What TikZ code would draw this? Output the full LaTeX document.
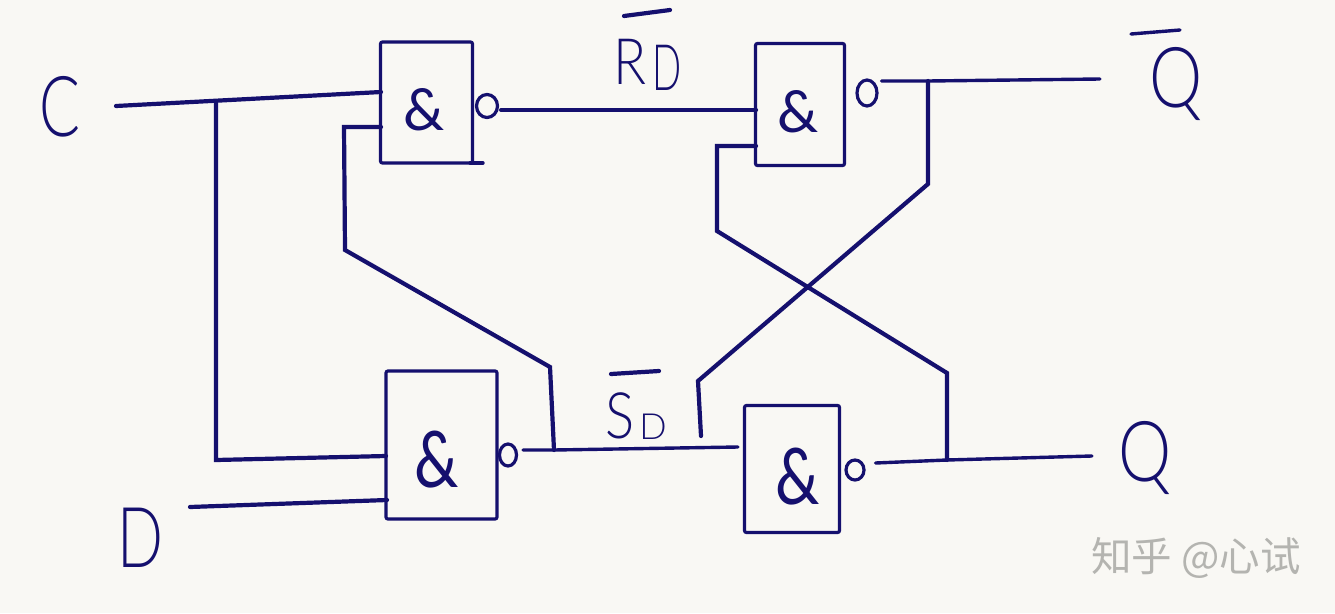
\documentclass[tikz,border=0pt]{standalone}
\usepackage{fontspec}
\setmainfont{Lato Light}
\newfontfamily\cjkwm{Noto Sans CJK SC}
\newfontfamily\ampfont{Lato}
\usetikzlibrary{shapes.geometric}
\definecolor{paper}{HTML}{F9F8F4}
\definecolor{ink}{HTML}{15106E}
\definecolor{mark}{HTML}{B4B4B0}
\tikzset{
  gatebox/.style={draw=ink,line width=3.2pt,rectangle,rounded corners=2pt,inner sep=0pt},
  amp/.style={text=ink,inner sep=0pt,font=\ampfont\fontsize{58}{58}\selectfont},
  bigamp/.style={text=ink,inner sep=0pt,font=\ampfont\fontsize{78}{78}\selectfont,xscale=.8},
  bubble/.style={draw=ink,line width=3.2pt,ellipse,inner sep=0pt},
  wire/.style={draw=ink,line width=4.2pt,line join=miter,line cap=round},
  thinwire/.style={draw=ink,line width=3.4pt,line cap=round},
  handlabel/.style={text=ink,inner sep=0pt,font=\fontsize{84}{84}\selectfont},
  smalllabel/.style={text=ink,inner sep=0pt,font=\fontsize{64}{64}\selectfont},
}
\begin{document}
\begin{tikzpicture}[x=1pt,y=-1pt]
\fill[paper] (0,0) rectangle (1335,613);
\useasboundingbox (0,0) rectangle (1335,613);
% gates
\node[gatebox,minimum width=92pt,minimum height=121pt] (g1) at (426.5,102.5) {};
\node[gatebox,minimum width=89pt,minimum height=122pt] (g2) at (800,104.5) {};
\node[gatebox,minimum width=111pt,minimum height=148pt] (g3) at (441.5,445) {};
\node[gatebox,minimum width=95pt,minimum height=127pt] (g4) at (792,469) {};
\node[amp] (a1) at (424,110) {\&};
\node[amp] (a2) at (798,112) {\&};
\node[bigamp] (a3) at (437,460) {\&};
\node[bigamp] (a4) at (798,477) {\&};
% bubbles
\node[bubble,minimum width=21pt,minimum height=23pt] (b1) at (487,106) {};
\node[bubble,minimum width=20pt,minimum height=26pt] (b2) at (867,93) {};
\node[bubble,minimum width=17pt,minimum height=22pt] (b3) at (508,455) {};
\node[bubble,minimum width=18pt,minimum height=20pt] (b4) at (855,470) {};
% labels
\node[handlabel,xscale=.72] (lc) at (60,107) {C};
\node[handlabel,xscale=.72] (ld) at (140,538) {D};
\node[handlabel,xscale=.8] (lq) at (1145,458) {Q};
\node[handlabel,xscale=.8] (lnq) at (1176,84) {Q};
\node[smalllabel,xscale=.85] (lr) at (630,62) {R};
\node[smalllabel,xscale=.6] (lrd) at (667,68) {D};
\node[smalllabel,xscale=.85] (ls) at (620,416) {S};
\node[text=ink,inner sep=0pt,font=\fontsize{36}{36}\selectfont] (lsd) at (653,427) {D};
\node[text=mark,inner sep=0pt,font=\cjkwm\fontsize{40.5}{40.5}\selectfont] (wm) at (1196,558) {知乎 @心试};
% ports and bends
\coordinate (cs) at (116,106);
\coordinate (cj) at (216,101);
\coordinate (g1a) at (381,92);
\coordinate (g1b) at (381,127);
\coordinate (c1) at (344,127);
\coordinate (c2) at (345,250);
\coordinate (c3) at (550,367);
\coordinate (sj) at (554,450);
\coordinate (g3a) at (386,456);
\coordinate (g3b) at (387,500);
\coordinate (c4) at (216,460);
\coordinate (ds) at (190,507);
\coordinate (g2a) at (756,110);
\coordinate (g2b) at (756,146);
\coordinate (c5) at (717,146);
\coordinate (c6) at (717,231);
\coordinate (c7) at (947,373);
\coordinate (qj) at (947,460);
\coordinate (o2) at (1100,79);
\coordinate (nj) at (928,81);
\coordinate (c8) at (928,184);
\coordinate (c9) at (698,381);
\coordinate (c10) at (701,436);
\coordinate (g4a) at (738,447);
\coordinate (o4) at (1092,456);
\coordinate (brs) at (624,16);
\coordinate (bre) at (670,10);
\coordinate (bss) at (611,374);
\coordinate (bse) at (659,371);
\coordinate (bqs) at (1131,34);
\coordinate (bqe) at (1180,30);
\coordinate (g1w) at (470,163);
\coordinate (g1x) at (483,163);
% connectors
\draw[wire] (cs) -- (g1a);
\draw[wire] (cj) -- (c4) -- (g3a);
\draw[wire] (ds) -- (g3b);
\draw[wire] (b1.east) ++(2,4) -- (g2a);
\draw[wire] (g1b) -- (c1) -- (c2) -- (c3) -- (sj);
\draw[thinwire] (b3.east) ++(5,-5) -- (sj) -- (g4a);
\draw[wire] (g2b) -- (c5) -- (c6) -- (c7) -- (qj);
\draw[thinwire] (b2.east) ++(3,-12) -- (nj) -- (o2);
\draw[wire] (nj) -- (c8) -- (c9) -- (c10);
\draw[thinwire] (b4.east) ++(10,-7) -- (qj) -- (o4);
\draw[thinwire] (g1w) -- (g1x);
% overbars
\draw[wire] (brs) -- (bre);
\draw[wire] (bss) -- (bse);
\draw[thinwire] (bqs) -- (bqe);
\end{tikzpicture}
\end{document}
